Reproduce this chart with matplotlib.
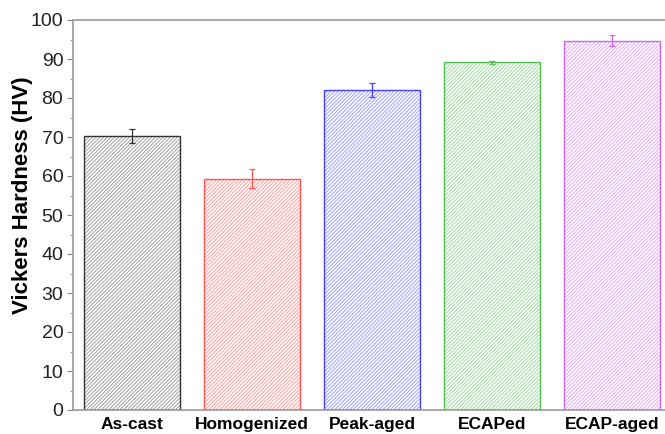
import numpy as np
import matplotlib
matplotlib.use('Agg')
import matplotlib.pyplot as plt
from matplotlib.ticker import MultipleLocator

plt.rcParams['font.family'] = ['Liberation Sans', 'DejaVu Sans']
plt.rcParams['hatch.linewidth'] = 0.8

# --- Data ---
samples = ['As-cast', 'Homogenized', 'Peak-aged', 'ECAPed', 'ECAP-aged']
hardness = [70.2, 59.3, 82.0, 89.2, 94.7]
errors = [1.8, 2.4, 1.8, 0.4, 1.4]
colors = ['#333333', '#ff5555', '#4444ff', '#55bb55', '#cc66ee']
hatch_colors = ['#aaaaaa', '#ffaaaa', '#aaaaff', '#aaddaa', '#e6b3f7']

fig = plt.figure(figsize=(6.65, 4.34), dpi=100)
ax = fig.add_axes([73 / 665, 24 / 434, 1 - 73 / 665, 390 / 434])

x = np.arange(len(samples))
for i in range(len(samples)):
    # hatch in light tint, outline in full colour
    ax.bar(x[i], hardness[i], width=0.8, facecolor='white', edgecolor=hatch_colors[i],
           hatch='/////////', linewidth=0, zorder=2)
    ax.bar(x[i], hardness[i], width=0.8, facecolor='none', edgecolor=colors[i],
           linewidth=1.0, zorder=2)
    ax.errorbar(x[i], hardness[i], yerr=errors[i], fmt='none', ecolor=colors[i],
                elinewidth=0.9, capsize=2.5, capthick=0.9, zorder=3)

ax.set_xlim(-0.49, 4.44)
ax.set_ylim(0, 100)
ax.yaxis.set_major_locator(MultipleLocator(10))
ax.yaxis.set_minor_locator(MultipleLocator(5))
ax.set_xticks(x)
ax.set_xticklabels(samples, fontsize=12.5, fontweight='bold')
ax.tick_params(axis='x', length=0, pad=5)
ax.tick_params(axis='y', which='major', length=4, labelsize=14, pad=3,
               colors='#888888', labelcolor='#222222')
ax.tick_params(axis='y', which='minor', length=2.5, colors='#888888')
ax.set_ylabel('Vickers Hardness (HV)', fontsize=16, fontweight='bold')
ax.yaxis.set_label_coords(-0.068, 0.55)

for s in ['left', 'bottom', 'top']:
    ax.spines[s].set_color('#999999')
    ax.spines[s].set_linewidth(1.2)
ax.spines['right'].set_visible(False)

plt.savefig('out.png', dpi=100)
